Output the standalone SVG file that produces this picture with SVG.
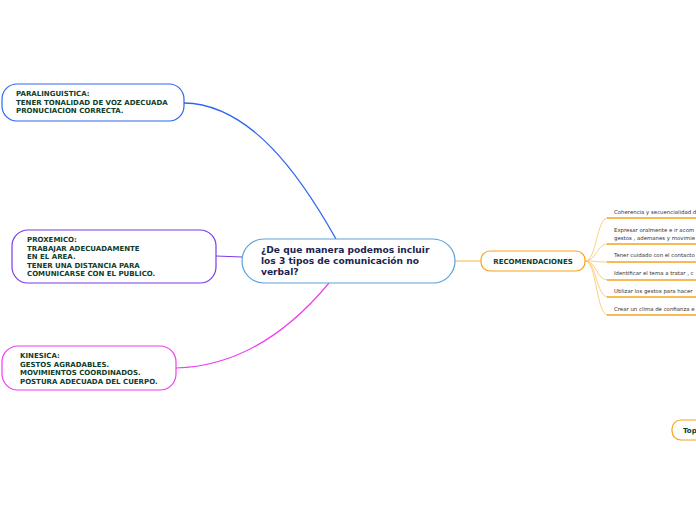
<svg xmlns="http://www.w3.org/2000/svg" width="696" height="520" viewBox="0 0 696 520">
<style>
.node{fill:#fff;stroke-width:1.2}
.t{font-family:"DejaVu Sans",Verdana,sans-serif;font-weight:bold;font-size:7px;fill:#0f3d2a}
.c{font-family:"DejaVu Sans",Verdana,sans-serif;font-weight:bold;font-size:9.1px;fill:#1a2550}
.s{font-family:"DejaVu Sans",Verdana,sans-serif;font-size:5.4px;fill:#333}
.fan{fill:none;stroke:#fdc870;stroke-width:0.9}
.ul{stroke:#f7a21b;stroke-width:1.6}
</style>
<rect width="696" height="520" fill="#fff"/>
<g id="connectors" fill="none">
<path d="M184,103 C250,104 300,175 336,239" stroke="#2f66f0" stroke-width="1.3"/>
<path d="M216,256 L242,257" stroke="#7a3be8" stroke-width="1.2"/>
<path d="M176,368 C250,366 300,318 329,283" stroke="#ee3ef0" stroke-width="1.2"/>
<path d="M455,261 L481,261" stroke="#f7b24a" stroke-width="1"/>
<path class="fan" d="M585,261 C597,261 596,218 608,218"/>
<path class="fan" d="M585,261 C597,261 596,244 608,244"/>
<path class="fan" d="M585,261 C597,261 596,262 608,262"/>
<path class="fan" d="M585,261 C597,261 596,280 608,280"/>
<path class="fan" d="M585,261 C597,261 596,297 608,297"/>
<path class="fan" d="M585,261 C597,261 596,315 608,315"/>
</g>
<g id="central">
<rect class="node" x="242" y="239" width="213" height="44" rx="22" stroke="#5aa3dc"/>
<text class="c" x="261" y="253">¿De que manera podemos incluir</text>
<text class="c" x="261" y="264">los 3 tipos de comunicación no</text>
<text class="c" x="261" y="275">verbal?</text>
</g>
<g id="paralinguistica">
<rect class="node" x="2" y="84" width="182" height="37" rx="15" stroke="#2f66f0"/>
<text class="t" x="16" y="96">PARALINGUISTICA:</text>
<text class="t" x="16" y="104.5">TENER TONALIDAD DE VOZ ADECUADA</text>
<text class="t" x="16" y="113">PRONUCIACION CORRECTA.</text>
</g>
<g id="proxemico">
<rect class="node" x="12" y="230" width="204" height="53" rx="16" stroke="#7a3be8"/>
<text class="t" x="27" y="242">PROXEMICO:</text>
<text class="t" x="27" y="250.5">TRABAJAR ADECUADAMENTE</text>
<text class="t" x="27" y="259">EN EL AREA.</text>
<text class="t" x="27" y="267.5">TENER UNA DISTANCIA PARA</text>
<text class="t" x="27" y="276">COMUNICARSE CON EL PUBLICO.</text>
</g>
<g id="kinesica">
<rect class="node" x="2" y="346" width="174" height="44" rx="16" stroke="#ee3ef0"/>
<text class="t" x="20" y="358">KINESICA:</text>
<text class="t" x="20" y="366.5">GESTOS AGRADABLES.</text>
<text class="t" x="20" y="375">MOVIMIENTOS COORDINADOS.</text>
<text class="t" x="20" y="383.5">POSTURA ADECUADA DEL CUERPO.</text>
</g>
<g id="recomendaciones">
<rect class="node" x="481" y="251" width="104" height="20" rx="9" stroke="#f7a21b"/>
<text class="t" x="533" y="264" text-anchor="middle">RECOMENDACIONES</text>
</g>
<g id="r1"><line class="ul" x1="607" y1="218" x2="696" y2="218"/><text class="s" x="614" y="214">Coherencia y secuencialidad d</text></g>
<g id="r2"><line class="ul" x1="607" y1="244" x2="696" y2="244"/><text class="s" x="614" y="232">Expresar oralmente e ir acom</text><text class="s" x="614" y="239.5">gestos , ademanes y movimie</text></g>
<g id="r3"><line class="ul" x1="607" y1="262" x2="696" y2="262"/><text class="s" x="614" y="257">Tener cuidado con el contacto</text></g>
<g id="r4"><line class="ul" x1="607" y1="280" x2="696" y2="280"/><text class="s" x="614" y="275">Identificar el tema a tratar , c</text></g>
<g id="r5"><line class="ul" x1="607" y1="297" x2="696" y2="297"/><text class="s" x="614" y="292.5">Utilizar los gestos para hacer</text></g>
<g id="r6"><line class="ul" x1="607" y1="315" x2="696" y2="315"/><text class="s" x="614" y="311">Crear un clima de confianza e</text></g>
<g id="top">
<rect class="node" x="672" y="420" width="40" height="20" rx="9" stroke="#f7a21b"/>
<text class="t" x="683" y="433">Top</text>
</g>
</svg>
